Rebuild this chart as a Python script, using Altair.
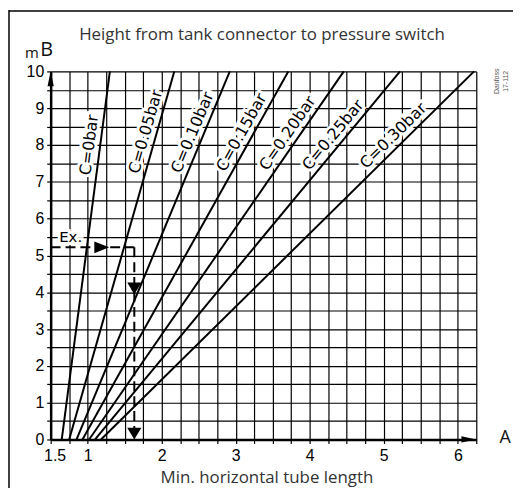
import math
import altair as alt
import pandas as pd

# ---------------- data ----------------
c_labels = ["C=0bar", "C=0.05bar", "C=0.10bar", "C=0.15bar", "C=0.20bar", "C=0.25bar", "C=0.30bar"]
x_at_0 = [0.65, 0.75, 0.85, 0.93, 1.02, 1.10, 1.18]      # tube length where line meets B = 0
x_at_10 = [1.30, 2.17, 2.92, 3.71, 4.46, 5.22, 6.22]     # tube length where line meets B = 10
label_y = [8.0, 8.36, 8.34, 8.34, 8.32, 8.27, 8.25]      # height of each label's centre

x_tick_values = [0.5, 1, 2, 3, 4, 5, 6]
x_tick_labels = ["1.5", "1", "2", "3", "4", "5", "6"]
y_tick_values = [0, 1, 2, 3, 4, 5, 6, 7, 8, 9, 10]
y_tick_labels = ["0", "1", "2", "3", "4", "5", "6", "7", "8", "9", "10"]

x_grid = [0.5 + 0.25 * i for i in range(24)]   # 0.5 .. 6.25
y_grid = [0.5 * i for i in range(21)]          # 0 .. 10

ex_height = 5.22
ex_length = 1.63
ex_bottom = 0.3
ex_label = "Ex."
ex_label_x = 0.77
ex_label_y = 5.5

arrow_names = ["x_axis", "y_axis", "ex_right", "ex_down1", "ex_down2"]
arrow_x = [6.15, 0.5, 1.19, 1.63, 1.63]
arrow_y = [0.0, 9.8, 5.22, 4.1, 0.16]

title_text = "Height from tank connector to pressure switch"
xtitle_text = "Min. horizontal tube length"

# ---------------- layout ----------------
W, H = 429, 371
XD = [0.5, 6.25]
YD = [0, 10]
px_per_x = W / (XD[1] - XD[0])
px_per_y = H / (YD[1] - YD[0])
LABEL_GAP = 11  # px between a line and its label centre

xs = alt.Scale(domain=XD, nice=False, zero=False)
ys = alt.Scale(domain=YD, nice=False, zero=False)


def lookup_expr(values, labels):
    vals = "[" + ",".join(repr(float(v)) for v in values) + "]"
    labs = "[" + ",".join("'" + l + "'" for l in labels) + "]"
    return f"indexof({vals}, datum.value) >= 0 ? {labs}[indexof({vals}, datum.value)] : ''"


xaxis = alt.Axis(
    values=x_grid, labelExpr=lookup_expr(x_tick_values, x_tick_labels),
    grid=True, gridColor="#000", gridWidth=1.2, gridOpacity=1,
    ticks=True, tickSize=4, tickColor="#000", tickWidth=1.2,
    domain=True, domainColor="black", domainWidth=2.5,
    labelFont="Liberation Sans", labelFontSize=16, labelColor="black",
    labelPadding=4, labelFlush=False, labelOverlap=False, labelBound=False,
    title=None,
    labelOffset={"condition": {"test": "datum.value == 0.5", "value": 4}, "value": 0},
)
yaxis = alt.Axis(
    values=y_grid, labelExpr=lookup_expr(y_tick_values, y_tick_labels),
    grid=True, gridColor="#000", gridWidth=1.2, gridOpacity=1,
    ticks=True, tickSize=4, tickColor="#000", tickWidth=1.2,
    domain=True, domainColor="black", domainWidth=2.5,
    labelFont="Liberation Sans", labelFontSize=16, labelColor="black",
    labelPadding=3, labelFlush=False, labelOverlap=False, labelBound=False,
    title=None,
)


def X(field):
    return alt.X(field, type="quantitative", scale=xs, axis=xaxis)


def Y(field):
    return alt.Y(field, type="quantitative", scale=ys, axis=yaxis)


# ---------------- tables ----------------
rows = []
for c, a, b in zip(c_labels, x_at_0, x_at_10):
    rows.append({"c": c, "x": a, "y": 0})
    rows.append({"c": c, "x": b, "y": 10})
lines_df = pd.DataFrame(rows)

angles, lab_x = [], []
for a, b, ly in zip(x_at_0, x_at_10, label_y):
    dx = (b - a) * px_per_x
    dy = (YD[1] - YD[0]) * px_per_y
    theta = math.atan2(dy, dx)
    angles.append(360 - math.degrees(theta))
    x_on_line = a + (b - a) * (ly - YD[0]) / (YD[1] - YD[0])
    lab_x.append(x_on_line - (LABEL_GAP / math.sin(theta)) / px_per_x)
labels_df = pd.DataFrame({"c": c_labels, "x": lab_x, "y": label_y, "angle": angles})

ex_h = pd.DataFrame({"x": [XD[0]], "x2": [ex_length], "y": [ex_height], "y2": [ex_height]})
ex_v = pd.DataFrame({"x": [ex_length], "x2": [ex_length], "y": [ex_height], "y2": [ex_bottom]})
ex_txt = pd.DataFrame({"x": [ex_label_x], "y": [ex_label_y], "t": [ex_label]})
arrows_df = pd.DataFrame({"name": arrow_names, "x": arrow_x, "y": arrow_y})

one = alt.Data(values=[{"k": 1}])

# ---------------- layers ----------------
LABEL_FONT = "DejaVu Sans"

halo = alt.Chart(labels_df).mark_text(
    font=LABEL_FONT, fontSize=16, fill="white", stroke="white", strokeWidth=6,
    align="center", baseline="middle"
).encode(x=X("x"), y=Y("y"), text="c:N", angle=alt.Angle("angle:Q", scale=None))

c_lines = alt.Chart(lines_df).mark_line(color="black", strokeWidth=2).encode(
    x=X("x"), y=Y("y"), detail="c:N"
)

c_text = alt.Chart(labels_df).mark_text(
    font=LABEL_FONT, fontSize=16, fill="black", align="center", baseline="middle"
).encode(x=X("x"), y=Y("y"), text="c:N", angle=alt.Angle("angle:Q", scale=None))

ex_halo = alt.Chart(ex_txt).mark_text(
    font=LABEL_FONT, fontSize=15, fill="white", stroke="white", strokeWidth=6,
    align="center", baseline="middle"
).encode(x=X("x"), y=Y("y"), text="t:N")
ex_text = alt.Chart(ex_txt).mark_text(
    font=LABEL_FONT, fontSize=15, fill="black", align="center", baseline="middle"
).encode(x=X("x"), y=Y("y"), text="t:N")

dash_h = alt.Chart(ex_h).mark_rule(color="black", strokeWidth=2, strokeDash=[10, 5]).encode(
    x=X("x"), x2="x2:Q", y=Y("y"), y2="y2:Q"
)
dash_v = alt.Chart(ex_v).mark_rule(color="black", strokeWidth=2, strokeDash=[10, 5]).encode(
    x=X("x"), x2="x2:Q", y=Y("y"), y2="y2:Q"
)

shape_map = {
    "x_axis": ("M-1,-0.42L1,0L-1,0.42Z", 225),
    "y_axis": ("M-0.42,1L0,-1L0.42,1Z", 225),
    "ex_right": ("M-1,-0.8L1,0L-1,0.8Z", 225),
    "ex_down1": ("M-0.95,-0.8L0.95,-0.8L0,0.8Z", 225),
    "ex_down2": ("M-0.95,-0.8L0.95,-0.8L0,0.8Z", 225),
}
arrow_layers = []
for nm in arrow_names:
    path, sz = shape_map[nm]
    arrow_layers.append(
        alt.Chart(arrows_df).transform_filter(alt.datum.name == nm).mark_point(
            shape=path, size=sz, filled=True, fill="black", stroke=None, opacity=1
        ).encode(x=X("x"), y=Y("y"))
    )


def deco_text(txt, x, y, font, size, color="#222", **kw):
    return alt.Chart(one).mark_text(
        text=txt, font=font, fontSize=size, color=color, align="center", baseline="middle", **kw
    ).encode(x=alt.value(x), y=alt.value(y))


title = deco_text(title_text, 213, -37, "Open Sans", 17, "#333")
xtitle = deco_text(xtitle_text, 218, 410, "Open Sans", 17, "#333")
m_lab = deco_text("m", -19, -19, "Open Sans", 15, "#111")
b_lab = deco_text("B", -4, -22, "Open Sans", 20, "#111")
a_lab = deco_text("A", 458, 370, "Open Sans", 18, "#111")
danfoss = deco_text("Danfoss\n17-112", 450, 10, "Liberation Sans", 7, "#555",
                    angle=270, lineBreak="\n")

frame_left = alt.Chart(one).mark_rule(color="black", strokeWidth=1.5).encode(
    x=alt.value(-42), x2=alt.value(-42), y=alt.value(-62), y2=alt.value(420)
)
frame_top = alt.Chart(one).mark_rule(color="black", strokeWidth=1.5).encode(
    x=alt.value(-42), x2=alt.value(470), y=alt.value(-61), y2=alt.value(-61)
)

chart = alt.layer(
    halo, ex_halo, c_lines, c_text, ex_text, dash_h, dash_v, *arrow_layers,
    title, xtitle, m_lab, b_lab, a_lab, danfoss, frame_left, frame_top
).properties(
    width=W, height=H,
    padding={"left": 43, "top": 62, "right": 37, "bottom": 48},
    autosize=alt.AutoSizeParams(type="none"),
    background="white",
).configure_view(stroke=None)

chart.save("out.html", embed_options={"renderer": "svg", "actions": False})
